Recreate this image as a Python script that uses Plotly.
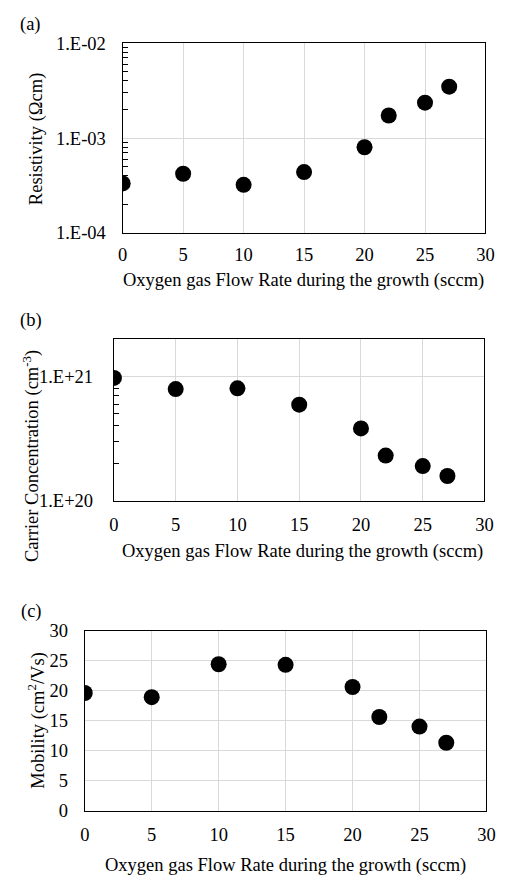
import plotly.graph_objects as go

W, H = 511, 886

flow = [0, 5, 10, 15, 20, 22, 25, 27]
resistivity = [3.32e-4, 4.2e-4, 3.21e-4, 4.38e-4, 8.0e-4, 1.73e-3, 2.36e-3, 3.48e-3]
carrier = [9.76e20, 7.94e20, 8.04e20, 5.94e20, 3.82e20, 2.31e20, 1.90e20, 1.58e20]
mobility = [19.6, 18.9, 24.4, 24.3, 20.6, 15.6, 14.0, 11.3]

x_ticks = [0, 5, 10, 15, 20, 25, 30]
res_ticks = [1e-4, 1e-3, 1e-2]
res_ticktext = ["1.E-04", "1.E-03", "1.E-02"]
car_ticks = [1e20, 1e21]
car_ticktext = ["1.E+20", "1.E+21"]
mob_ticks = [0, 5, 10, 15, 20, 25, 30]

xtitle = "Oxygen gas Flow Rate during the growth (sccm)"
FONT = '"Liberation Serif", "Times New Roman", serif'
FS = 18.5

# panel boxes in pixels: (left, right, top, bottom)
boxes = [(121, 494, 34, 228), (112, 493, 337, 502), (82, 495, 635, 819)]


def dom_x(l, r):
    return [l / W, r / W]


def dom_y(t, b):
    return [1 - b / H, 1 - t / H]


def minor_vals(lo_exp, hi_exp):
    vals = []
    for e in range(lo_exp, hi_exp + 1):
        for m in range(2, 10):
            vals.append(float(m) * 10.0 ** e)
    return vals


fig = go.Figure()
marker = dict(color="black", size=16)
fig.add_trace(go.Scatter(x=flow, y=resistivity, mode="markers", marker=marker, xaxis="x", yaxis="y"))
fig.add_trace(go.Scatter(x=flow, y=carrier, mode="markers", marker=marker, xaxis="x2", yaxis="y2"))
fig.add_trace(go.Scatter(x=flow, y=mobility, mode="markers", marker=marker, xaxis="x3", yaxis="y3"))

common_x = dict(range=[0, 30], tickvals=x_ticks, showgrid=True, gridcolor="#d9d9d9", gridwidth=1,
                showline=True, linecolor="black", linewidth=1.3, mirror=True, zeroline=False,
                ticks="", tickfont=dict(family=FONT, size=FS, color="black"))
common_y = dict(showgrid=True, gridcolor="#d9d9d9", gridwidth=1, showline=True, linecolor="black",
                linewidth=1.3, mirror=True, zeroline=False,
                tickfont=dict(family=FONT, size=FS, color="black"))

layout = dict(width=W, height=H, margin=dict(l=0, r=0, t=0, b=0), showlegend=False,
              plot_bgcolor="white", paper_bgcolor="white",
              font=dict(family=FONT, size=FS, color="black"))

(l, r, t, b) = boxes[0]
layout["xaxis"] = dict(common_x, domain=dom_x(l, r), anchor="y", ticklabelstandoff=5)
layout["yaxis"] = dict(common_y, domain=dom_y(t, b), anchor="x", type="log", range=[-4, -2],
                       tickvals=res_ticks, ticktext=res_ticktext, ticks="", ticklabelstandoff=12,
                       minor=dict(tickvals=minor_vals(-4, -3), ticks="inside", ticklen=5,
                                  tickcolor="black", showgrid=False))
(l, r, t, b) = boxes[1]
layout["xaxis2"] = dict(common_x, domain=dom_x(l, r), anchor="y2", ticklabelstandoff=7)
layout["yaxis2"] = dict(common_y, domain=dom_y(t, b), anchor="x2", type="log", range=[20, 21.3],
                        tickvals=car_ticks, ticktext=car_ticktext, ticks="", ticklabelstandoff=16,
                        minor=dict(tickvals=minor_vals(20, 20), ticks="inside", ticklen=5,
                                   tickcolor="black", showgrid=False))
(l, r, t, b) = boxes[2]
layout["xaxis3"] = dict(common_x, domain=dom_x(l, r), anchor="y3", ticklabelstandoff=7)
layout["yaxis3"] = dict(common_y, domain=dom_y(t, b), anchor="x3", range=[0, 30],
                        tickvals=mob_ticks, ticks="", ticklabelstandoff=12)

fig.update_layout(**layout)

ann = []
# panel labels
for lab, (px, py) in zip(["(a)", "(b)", "(c)"], [(26, 15), (27, 318), (27, 615)]):
    ann.append(dict(text=lab, x=px / W, y=1 - py / H, xref="paper", yref="paper",
                    showarrow=False, xanchor="center", yanchor="middle"))
# x titles
for (px, py) in [(307, 277), (306, 554), (288, 875)]:
    ann.append(dict(text=xtitle, x=px / W, y=1 - py / H, xref="paper", yref="paper",
                    showarrow=False, xanchor="center", yanchor="middle"))
# y titles
ytitles = ["Resistivity (Ωcm)", "Carrier Concentration (cm<sup>-3</sup>)", "Mobility (cm<sup>2</sup>/Vs)"]
for txt, (px, py) in zip(ytitles, [(32, 132), (27, 456), (33, 727)]):
    ann.append(dict(text=txt, x=px / W, y=1 - py / H, xref="paper", yref="paper", textangle=-90,
                    showarrow=False, xanchor="center", yanchor="middle"))
fig.update_layout(annotations=ann)

fig.write_html("out.html")
